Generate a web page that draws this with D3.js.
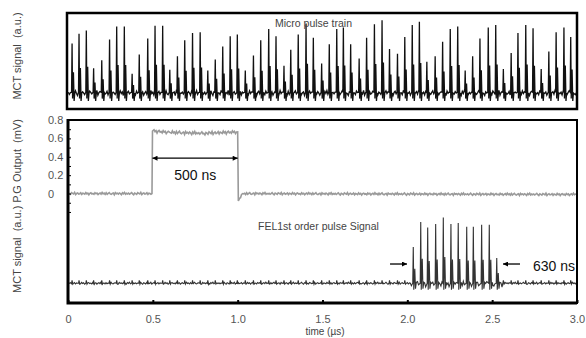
<!DOCTYPE html>
<html>
<head>
<meta charset="utf-8">
<script src="https://cdn.jsdelivr.net/npm/d3@7"></script>
<style>
  body { margin: 0; background: #fff; }
  text { font-family: "Liberation Sans", Arial, sans-serif; white-space: pre; }
</style>
</head>
<body>
<svg id="chart" width="586" height="338"></svg>
<script>
// micro pulse train (top panel): pulse times in µs, peak heights in a.u.
const microTimes = [0.024, 0.065, 0.108, 0.151, 0.199, 0.245, 0.287, 0.332, 0.378, 0.420,
  0.470, 0.513, 0.558, 0.600, 0.645, 0.688, 0.734, 0.779, 0.824, 0.868,
  0.912, 0.956, 0.998, 1.045, 1.093, 1.136, 1.183, 1.226, 1.273, 1.313,
  1.357, 1.403, 1.446, 1.495, 1.540, 1.584, 1.623, 1.666, 1.716, 1.760,
  1.806, 1.851, 1.895, 1.942, 1.985, 2.029, 2.071, 2.115, 2.164, 2.208,
  2.253, 2.297, 2.341, 2.385, 2.428, 2.477, 2.521, 2.566, 2.612, 2.652,
  2.698, 2.741, 2.789, 2.834, 2.877, 2.923, 2.963];
const microAmps = [0.62, 0.74, 0.78, 0.31, 0.41, 0.67, 0.83, 0.83, 0.24, 0.48,
  0.68, 0.84, 0.84, 0.29, 0.46, 0.66, 0.75, 0.76, 0.28, 0.42,
  0.58, 0.71, 0.73, 0.28, 0.47, 0.66, 0.80, 0.71, 0.34, 0.54,
  0.73, 0.87, 0.69, 0.37, 0.61, 0.80, 0.82, 0.61, 0.43, 0.69,
  0.86, 0.91, 0.55, 0.49, 0.70, 0.85, 0.89, 0.39, 0.46, 0.64,
  0.80, 0.83, 0.28, 0.46, 0.68, 0.82, 0.85, 0.30, 0.50, 0.75,
  0.85, 0.81, 0.30, 0.52, 0.76, 0.82, 0.70];

// P.G output (gray trace), mV
const pgTimes = [0, 0.495, 0.498, 0.6, 0.8, 1.0, 1.004, 1.03, 3.0];
const pgLevels = [0.0, 0.0, 0.68, 0.665, 0.655, 0.67, -0.08, 0.0, -0.01];

// FEL 1st order pulse signal (bottom trace)
const felBase = -0.975;
const felTimes = [2.035, 2.079, 2.120, 2.167, 2.212, 2.257, 2.300, 2.350, 2.389, 2.438, 2.483, 2.527];
const felPeaks = [-0.58, -0.31, -0.37, -0.33, -0.26, -0.33, -0.32, -0.36, -0.36, -0.34, -0.34, -0.70];

const xTicks = [0, 0.5, 1.0, 1.5, 2.0, 2.5, 3.0];
const xTickLabels = ["0", "0.5", "1.0", "1.5", "2.0", "2.5", "3.0"];
const yTicks = [-0.2, -0.1, 0, 0.1, 0.2, 0.3, 0.4, 0.5, 0.6, 0.7, 0.8];
const yLabelled = [0, 0.2, 0.4, 0.6, 0.8];

// hand-typed jitter used as trace texture
const NOISE = [0.3, -0.5, 0.1, 0.8, -0.2, -0.9, 0.4, 0.0, -0.6, 0.7, 0.2, -0.3, 0.9, -0.8, 0.1, 0.5,
  -0.4, -0.1, 0.6, -0.7, 0.3, 0.0, -0.5, 0.8, -0.2, 0.4, -0.9, 0.2, 0.6, -0.3, 0.1, -0.6,
  0.7, -0.1, 0.4, -0.8, 0.0, 0.5, -0.4, 0.9, -0.2, 0.3, -0.7, 0.6, -0.5, 0.2, 0.8, -0.3,
  -0.6, 0.1, 0.4, -0.9, 0.7, -0.1, 0.3, -0.4, 0.5, 0.0, -0.8, 0.6, -0.2, 0.9, -0.5, 0.2, -0.3];

const svg = d3.select('#chart');
svg.append('rect').attr('width', 586).attr('height', 338).attr('fill', '#fff');

const x = d3.scaleLinear().domain([0, 3]).range([68, 577]);
const yTop = d3.scaleLinear().domain([-0.2, 1]).range([109, 13]);
const yBot = d3.scaleLinear().domain([-1.19, 0.8]).range([303, 120]);

const line = (ys) => d3.line().x(d => x(d[0])).y(d => ys(d[1]));

// ---------- top trace ----------
const topTrace = [];
let k = 0;
for (let t = 0.002; t < 2.998; t += 0.006) {
  if (microTimes.some(s => t > s - 0.005 && t < s + 0.018)) continue;
  topTrace.push([t, NOISE[k++ % NOISE.length] * 0.035]);
}
microTimes.forEach((s, i) => {
  const a = microAmps[i];
  topTrace.push([s - 0.003, 0.01], [s, a], [s + 0.003, -0.07], [s + 0.008, a * 0.42],
    [s + 0.012, -0.1], [s + 0.016, 0.0]);
});
topTrace.sort((p, q) => p[0] - q[0]);

svg.append('path')
  .datum(topTrace)
  .attr('fill', 'none')
  .attr('stroke', '#111')
  .attr('stroke-width', 1.3)
  .attr('d', line(yTop));

svg.append('rect')
  .attr('x', 67).attr('y', 13).attr('width', 510).attr('height', 96)
  .attr('fill', 'none').attr('stroke', '#000').attr('stroke-width', 2.5);

svg.append('text')
  .attr('x', x(1.22)).attr('y', 27)
  .attr('font-size', 10.5).attr('fill', '#444')
  .text('Micro pulse train');

// ---------- bottom panel ----------
const pgLevel = d3.scaleLinear().domain(pgTimes).range(pgLevels);
const pg = pgTimes.map((t, i) => [t, pgLevels[i]]);
k = 7;
for (let t = 0.003; t < 2.998; t += 0.006) {
  if (pgTimes.some(s => Math.abs(t - s) < 0.004)) continue;
  const amp = (t > 0.498 && t < 1.0) ? 0.02 : 0.014;
  pg.push([t, pgLevel(t) + NOISE[k++ % NOISE.length] * amp]);
}
pg.sort((p, q) => p[0] - q[0]);

svg.append('path')
  .datum(pg)
  .attr('fill', 'none')
  .attr('stroke', '#9a9a9a')
  .attr('stroke-width', 1.6)
  .attr('d', line(yBot));

const fel = [];
k = 13;
for (let t = 0.002; t < 2.998; t += 0.006) {
  if (felTimes.some(s => t > s - 0.005 && t < s + 0.02)) continue;
  if (microTimes.some(s => t > s - 0.004 && t < s + 0.005)) continue;
  const inside = t > 2.02 && t < 2.56;
  const n = NOISE[k++ % NOISE.length];
  fel.push([t, felBase + (inside ? n * 0.035 - 0.01 : n * 0.012)]);
}
microTimes.forEach(s => {
  if (s > 2.0 && s < 2.56) return;
  fel.push([s - 0.003, felBase], [s, felBase + 0.03], [s + 0.004, felBase - 0.01]);
});
felTimes.forEach((s, i) => {
  const h = felPeaks[i] - felBase;
  fel.push([s - 0.003, felBase], [s, felPeaks[i]], [s + 0.003, felBase - 0.07],
    [s + 0.009, felBase + h * 0.4], [s + 0.013, felBase - 0.06], [s + 0.018, felBase + 0.01]);
});
fel.sort((p, q) => p[0] - q[0]);

svg.append('path')
  .datum(fel)
  .attr('fill', 'none')
  .attr('stroke', '#333')
  .attr('stroke-width', 1.1)
  .attr('d', line(yBot));

// frame
svg.append('rect')
  .attr('x', 68).attr('y', 120).attr('width', 509).attr('height', 183)
  .attr('fill', 'none').attr('stroke', '#000').attr('stroke-width', 2);
svg.append('path')
  .attr('d', `M68,119V303H577`)
  .attr('fill', 'none').attr('stroke', '#000').attr('stroke-width', 3);

// axes
const yAxis = svg.append('g')
  .attr('transform', 'translate(68,0)')
  .call(d3.axisLeft(yBot).tickValues(yTicks).tickSize(-3)
    .tickFormat(d => yLabelled.some(v => Math.abs(v - d) < 1e-6) ? (d === 0 ? '0' : d3.format('.1f')(d)) : ''));
yAxis.select('.domain').remove();
yAxis.selectAll('text')
  .attr('x', -20).attr('text-anchor', 'start')
  .attr('font-size', 11).attr('fill', '#555').attr('font-family', null);

const xAxis = svg.append('g')
  .attr('transform', 'translate(0,303)')
  .call(d3.axisBottom(x).tickValues(xTicks).tickSize(-3).tickPadding(12)
    .tickFormat((d, i) => xTickLabels[i]));
xAxis.select('.domain').remove();
xAxis.selectAll('line').attr('stroke-width', 2);
xAxis.selectAll('text')
  .attr('font-size', 11).attr('fill', '#555').attr('font-family', null);

// axis titles
svg.append('text')
  .attr('transform', 'translate(21,56) rotate(-90)')
  .attr('text-anchor', 'middle')
  .attr('font-size', 11).attr('fill', '#444')
  .text('MCT signal  (a.u.)');
svg.append('text')
  .attr('transform', 'translate(21,206) rotate(-90)')
  .attr('text-anchor', 'middle')
  .attr('font-size', 11).attr('fill', '#444')
  .text('MCT signal  (a.u.) P.G Output  (mV)');
svg.append('text')
  .attr('x', 325).attr('y', 335)
  .attr('text-anchor', 'middle')
  .attr('font-size', 10).attr('fill', '#444')
  .text('time (µs)');

// annotations
const defs = svg.append('defs');
defs.append('marker')
  .attr('id', 'head')
  .attr('viewBox', '0 0 10 10')
  .attr('refX', 10).attr('refY', 5)
  .attr('markerWidth', 6).attr('markerHeight', 5)
  .attr('markerUnits', 'userSpaceOnUse')
  .attr('orient', 'auto-start-reverse')
  .append('path').attr('d', 'M0,0L10,5L0,10Z').attr('fill', '#000');

svg.append('line')
  .attr('x1', x(0.498)).attr('x2', x(1.0))
  .attr('y1', yBot(0.385)).attr('y2', yBot(0.385))
  .attr('stroke', '#000').attr('stroke-width', 1.3)
  .attr('marker-start', 'url(#head)').attr('marker-end', 'url(#head)');
svg.append('text')
  .attr('x', x(0.75)).attr('y', yBot(0.148))
  .attr('text-anchor', 'middle')
  .attr('font-size', 14).attr('fill', '#111')
  .text('500 ns');

svg.append('text')
  .attr('x', x(1.12)).attr('y', yBot(-0.396))
  .attr('font-size', 10.5).attr('fill', '#444')
  .text('FEL1st order pulse Signal');

svg.append('line')
  .attr('x1', x(1.898)).attr('x2', x(1.998))
  .attr('y1', yBot(-0.766)).attr('y2', yBot(-0.766))
  .attr('stroke', '#000').attr('stroke-width', 1.3)
  .attr('marker-end', 'url(#head)');
svg.append('line')
  .attr('x1', x(2.664)).attr('x2', x(2.564))
  .attr('y1', yBot(-0.766)).attr('y2', yBot(-0.766))
  .attr('stroke', '#000').attr('stroke-width', 1.3)
  .attr('marker-end', 'url(#head)');
svg.append('text')
  .attr('x', x(2.741)).attr('y', yBot(-0.842))
  .attr('font-size', 14).attr('fill', '#111')
  .text('630 ns');
</script>
</body>
</html>
